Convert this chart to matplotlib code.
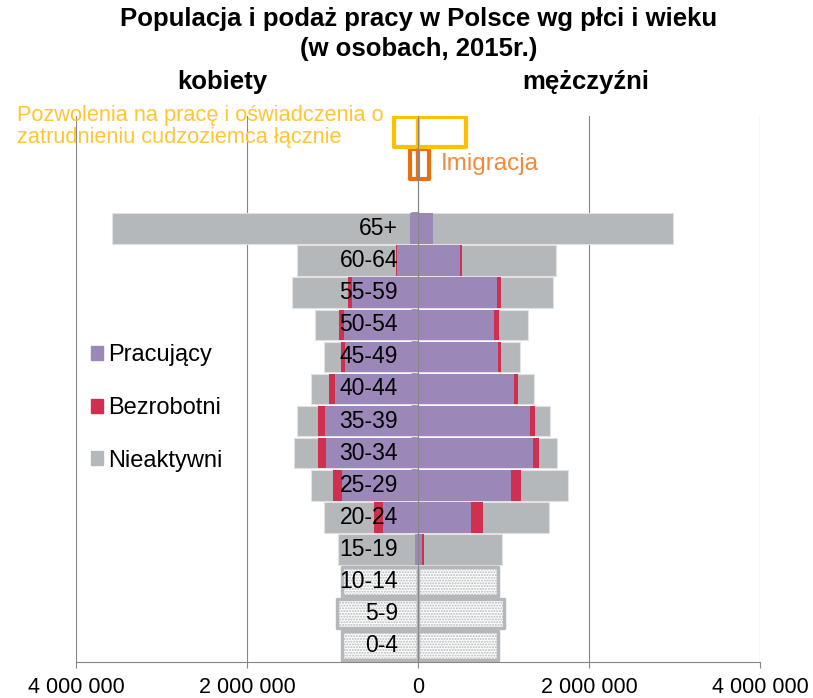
import numpy as np
import matplotlib.pyplot as plt
from matplotlib.patches import Patch
from matplotlib.ticker import FuncFormatter, MultipleLocator

plt.rcParams['font.family'] = ['Liberation Sans', 'DejaVu Sans']

AGE_GROUPS = ["0-4", "5-9", "10-14", "15-19", "20-24", "25-29", "30-34",
              "35-39", "40-44", "45-49", "50-54", "55-59", "60-64", "65+"]

# wartosci w tys. osob
CHILD_F = [890, 950, 890]
CHILD_M = [940, 1000, 940]

# grupy 15-19 ... 65+
WORK_F = [30, 410, 890, 1080, 1090, 975, 850, 860, 775, 250, 90]
UNEMP_F = [10, 105, 100, 90, 80, 65, 55, 60, 45, 5, 0]
INACT_F = [890, 585, 260, 280, 250, 210, 195, 290, 656, 1165, 3490]

WORK_M = [50, 617, 1086, 1340, 1310, 1120, 930, 890, 920, 487, 170]
UNEMP_M = [24, 139, 124, 70, 60, 54, 35, 60, 45, 23, 5]
INACT_M = [906, 774, 540, 210, 170, 186, 225, 340, 615, 1105, 2805]

PERMITS = [280, 565]      # kobiety, mezczyzni
IMMIGRATION = [95, 130]

PURPLE = "#9B87B8"
RED = "#D0304F"
GRAY = "#B5B8BB"
YELLOW = "#FFC000"
ORANGE = "#E8700F"
AXIS_GRAY = "#868686"
K = 1000

fig = plt.figure(figsize=(8.13, 6.98), dpi=100)
ax = fig.add_axes([0.0935, 0.0516, 0.8413, 0.7822])

y_child = np.arange(3)
y_adult = np.arange(3, len(AGE_GROUPS))
Y_IMM, Y_PERM = 15, 16

for i, (sign, child, work, unemp, inact) in enumerate([
    (-1, CHILD_F, WORK_F, UNEMP_F, INACT_F),
    (1, CHILD_M, WORK_M, UNEMP_M, INACT_M),
]):
    work = np.array(work) * K
    unemp = np.array(unemp) * K
    inact = np.array(inact) * K
    total = work + unemp + inact
    ax.barh(y_adult, sign * total, height=0.95, color=GRAY, edgecolor="#e2e2e2", lw=0.8)
    ax.barh(y_adult, sign * work, height=0.95, color=PURPLE, lw=0)
    ax.barh(y_adult, sign * unemp, left=sign * work, height=0.95, color=RED, lw=0)
    ax.barh(y_child, sign * np.array(child) * K, height=0.9, color="white",
            edgecolor=GRAY, hatch="......", lw=2.5, joinstyle="round")
    ax.barh(Y_IMM, sign * IMMIGRATION[i] * K, height=0.92, color="white",
            edgecolor=ORANGE, lw=3, joinstyle="round")
    ax.barh(Y_PERM, sign * PERMITS[i] * K, height=0.92, color="white",
            edgecolor=YELLOW, lw=3, joinstyle="round")

for y, lab in enumerate(AGE_GROUPS):
    ax.text(-235000, y, lab, ha="right", va="center", fontsize=16.5, zorder=5)

ax.text(270000, Y_IMM, "Imigracja", ha="left", va="center", fontsize=17.5,
        color="#F08A3C", zorder=5)

ax.set_xlim(-4e6, 4e6)
ax.set_ylim(-0.5, 16.5)
ax.xaxis.set_major_locator(MultipleLocator(2e6))
ax.xaxis.set_major_formatter(FuncFormatter(lambda v, p: f"{abs(v):,.0f}".replace(",", " ")))
ax.grid(axis="x", color=AXIS_GRAY, lw=0.8)
ax.set_axisbelow(True)
ax.spines[["top", "right"]].set_visible(False)
ax.spines["left"].set_position(("data", 0))
ax.spines["left"].set_color(AXIS_GRAY)
ax.spines["bottom"].set_color(AXIS_GRAY)
ax.set_yticks([])
ax.set_yticks(np.arange(-0.5, 17, 1), minor=True)
ax.tick_params(axis="y", which="minor", length=5, color=AXIS_GRAY)
ax.tick_params(axis="x", length=4, color=AXIS_GRAY, labelsize=15.5, pad=7)

fig.text(0.515, 1 - 19 / 698, "Populacja i podaż pracy w Polsce wg płci i wieku",
         ha="center", va="center", fontsize=18.5, weight="bold")
fig.text(0.515, 1 - 49 / 698, "(w osobach, 2015r.)",
         ha="center", va="center", fontsize=18.5, weight="bold")
fig.text(222 / 813, 1 - 82 / 698, "kobiety", ha="center", va="center",
         fontsize=18.5, weight="bold")
fig.text(586 / 813, 1 - 82 / 698, "mężczyźni", ha="center", va="center",
         fontsize=18.5, weight="bold")
fig.text(17 / 813, 1 - 116 / 698, "Pozwolenia na pracę i oświadczenia o",
         ha="left", va="center", fontsize=15.7, color="#FFC533")
fig.text(17 / 813, 1 - 137 / 698, "zatrudnieniu cudzoziemca łącznie",
         ha="left", va="center", fontsize=15.7, color="#FFC533")

handles = [Patch(color=PURPLE, label="Pracujący"),
           Patch(color=RED, label="Bezrobotni"),
           Patch(color=GRAY, label="Nieaktywni")]
fig.legend(handles=handles, loc="center left", bbox_to_anchor=(91 / 813, 1 - 408 / 698),
           frameon=False, fontsize=17, handlelength=0.52, handleheight=0.52,
           handletextpad=0.2, labelspacing=1.3, borderpad=0, borderaxespad=0)

fig.savefig("out.png", dpi=100)
